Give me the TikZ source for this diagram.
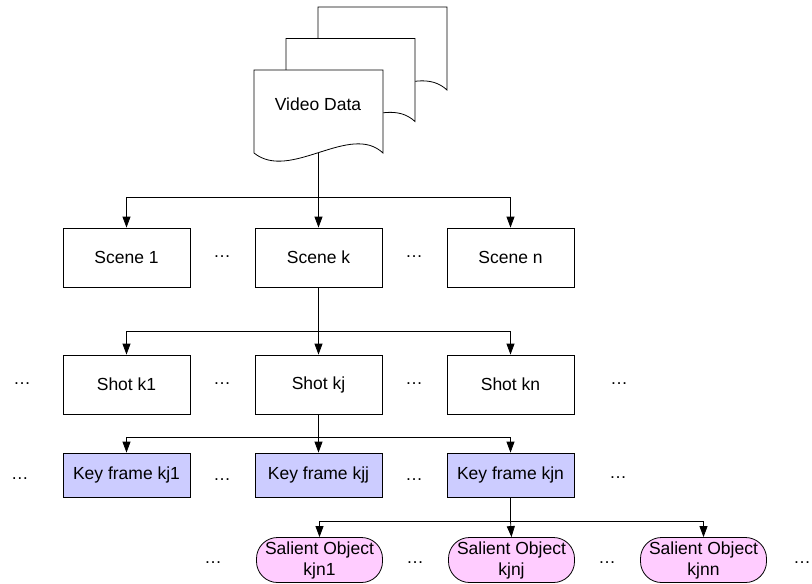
\documentclass[tikz,border=0pt]{standalone}
\usepackage{fontspec}
\setmainfont{Liberation Sans}
\usetikzlibrary{arrows.meta}
\definecolor{kfblue}{HTML}{CCCCFF}
\definecolor{sopink}{HTML}{FFCCFF}
\tikzset{
  base/.style={draw=black, line width=0.8pt, inner sep=0pt, align=center,
    font=\fontsize{17.5}{21}\selectfont},
  levelbox/.style={base, rectangle, fill=white, minimum width=127pt, minimum height=59pt},
  kfbox/.style={base, rectangle, fill=kfblue, minimum width=127pt, minimum height=44pt},
  sobox/.style={base, rectangle, rounded corners=21pt, fill=sopink, minimum width=126pt, minimum height=45pt},
  dots/.style={inner sep=0pt, font=\fontsize{17.5}{21}\selectfont},
  conn/.style={line width=0.8pt},
  arr/.style={conn, -{Triangle[length=11pt,width=8pt]}},
  docshape/.style={draw=black, line width=0.8pt, fill=white}
}
\begin{document}
\begin{tikzpicture}[x=1pt,y=-1pt]
\useasboundingbox (0,0) rectangle (812,584);
% document stack
\foreach \dx/\dy in {64/-63, 32/-31.5, 0/0} {
  \draw[docshape, shift={(\dx,\dy)}] (254,153) -- (254,70) -- (383,70) -- (383,153)
     .. controls (350,122) and (290,182) .. (254,153) -- cycle;
}
\node[dots] (vd) at (318,104) {Video Data};
\coordinate (vdb) at (318.5,152.5);
\coordinate (j1) at (318.5,197);

% scenes
\node[levelbox] (s1) at (126.5,257.5) {Scene 1};
\node[levelbox] (sk) at (318.5,257.5) {Scene k};
\node[levelbox] (sn) at (510.5,257.5) {Scene n};
\node[dots] (d1) at (222,257) {…};
\node[dots] (d2) at (414,257) {…};

% shots
\node[levelbox] (h1) at (126.5,384.5) {Shot k1};
\node[levelbox] (hk) at (318.5,384.5) {Shot kj};
\node[levelbox] (hn) at (510.5,384.5) {Shot kn};
\node[dots] (d3) at (22,384) {…};
\node[dots] (d4) at (222,384) {…};
\node[dots] (d5) at (414,384) {…};
\node[dots] (d6) at (619,384) {…};

% key frames
\node[kfbox] (k1) at (126.5,475) {Key frame kj1};
\node[kfbox] (kk) at (318.5,475) {Key frame kjj};
\node[kfbox] (kn) at (510.5,475) {Key frame kjn};
\node[dots] (d7) at (20,479) {…};
\node[dots] (d8) at (222,480) {…};
\node[dots] (d9) at (414,480) {…};
\node[dots] (d10) at (618,478) {…};

% salient objects
\node[sobox] (o1) at (319.5,560) {Salient Object\\kjn1};
\node[sobox] (oj) at (511.5,560) {Salient Object\\kjnj};
\node[sobox] (on) at (703.5,560) {Salient Object\\kjnn};
\node[dots] (d11) at (213,563) {…};
\node[dots] (d12) at (415,563) {…};
\node[dots] (d13) at (607,563) {…};
\node[dots] (d14) at (802,563) {…};

% connectors
\draw[conn] (vdb) -- (j1);
\draw[arr] (j1) -| (s1.north);
\draw[arr] (j1) -- (sk.north);
\draw[arr] (j1) -| (sn.north);

\coordinate (j2) at (318.5,331);
\draw[conn] (sk.south) -- (j2);
\draw[arr] (j2) -| (h1.north);
\draw[arr] (j2) -- (hk.north);
\draw[arr] (j2) -| (hn.north);

\coordinate (j3) at (318.5,437);
\draw[conn] (hk.south) -- (j3);
\draw[arr] (j3) -| (k1.north);
\draw[arr] (j3) -- (kk.north);
\draw[arr] (j3) -| (kn.north);

\coordinate (j4) at (510.5,521);
\draw[conn] (kn.south) -- (j4);
\draw[arr] (j4) -| (o1.north);
\draw[arr] (j4) -- (oj.north);
\draw[arr] (j4) -| (on.north);
\end{tikzpicture}
\end{document}
